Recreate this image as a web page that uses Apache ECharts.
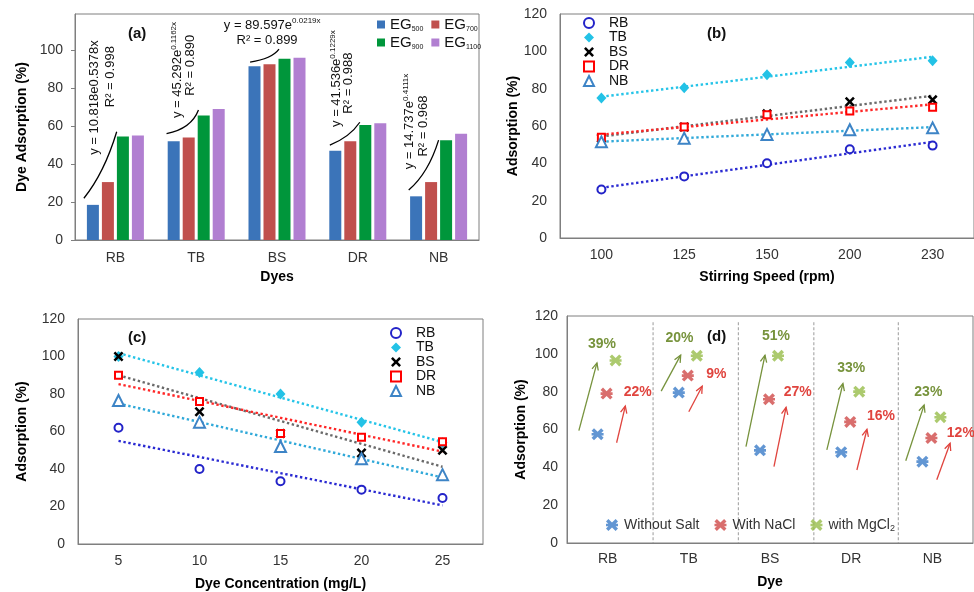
<!DOCTYPE html>
<html>
<head>
<meta charset="utf-8">
<script src="https://cdn.jsdelivr.net/npm/echarts@6/dist/echarts.min.js"></script>
<style>
  html, body { margin: 0; padding: 0; background: #fff; }
  #main { width: 974px; height: 592px; }
</style>
</head>
<body>
<div id="main"></div>
<script>
// (a) adsorption of each dye on the four carbons
var dyes = ['RB', 'TB', 'BS', 'DR', 'NB'];
var eg500 = [18.5, 52, 91.5, 47, 23];
var eg700 = [30.5, 54, 92.5, 52, 30.5];
var eg900 = [54.5, 65.5, 95.5, 60.5, 52.5];
var eg1100 = [55, 69, 96, 61.5, 56];
var eqBase = ['y = 10.818e0.5378x', 'y = 45.292e', 'y = 89.597e', 'y = 41.536e', 'y = 14.737e'];
var eqExp = ['', '0.1162x', '0.0219x', '0.1229x', '0.4111x'];
var r2 = ['0.998', '0.890', '0.899', '0.988', '0.968'];

// (b) stirring speed
var speeds = ['100', '125', '150', '200', '230'];
var rbSpeed = [26, 33, 40, 47.5, 49.5];
var tbSpeed = [75, 80.5, 87.5, 94, 95];
var bsSpeed = [53.5, 59.5, 66.5, 73, 74];
var drSpeed = [54, 59.5, 66, 68, 70];
var nbSpeed = [51.5, 53.5, 55.5, 58, 59];

// (c) dye concentration
var concs = ['5', '10', '15', '20', '25'];
var rbConc = [62, 40, 33.5, 29, 24.5];
var tbConc = [100, 91.5, 80, 65, 54];
var bsConc = [100, 70.5, 59, 48.5, 50];
var drConc = [90, 76, 59, 57, 54.5];
var nbConc = [76.5, 65, 52, 45.5, 37];

// (d) salt effect
var noSalt = [57.5, 79.5, 49, 48, 43];
var withNaCl = [79, 88.5, 76, 64, 55.5];
var withMgCl2 = [96.5, 99, 99, 80, 66.5];
var mgGain = ['39%', '20%', '51%', '33%', '23%'];
var naGain = ['22%', '9%', '27%', '16%', '12%'];

var FONT = '"Liberation Sans", Arial, sans-serif';
var AX = '#7f7f7f';
var LBL = '#333';

// linear trendline (least squares on category index, like excel)
function fit(ys) {
    var n = ys.length, mx = (n - 1) / 2, my = 0, sxy = 0, sxx = 0;
    ys.forEach(function (y) { my += y / n; });
    ys.forEach(function (y, i) { sxy += (i - mx) * (y - my); sxx += (i - mx) * (i - mx); });
    var b = sxy / sxx;
    return ys.map(function (y, i) { return +(my + b * (i - mx)).toFixed(2); });
}

var crossPath = 'path://M3.6,0L10,6.4L16.4,0L20,3.6L13.6,10L20,16.4L16.4,20L10,13.6L3.6,20L0,16.4L6.4,10L0,3.6Z';
var starPath = 'path://M4,0L10,6L16,0L20,4L14,10L20,16L16,20L10,14L4,20L0,16L6,10L0,4ZM0,7.8L20,7.8L20,12.2L0,12.2Z';

var markers = {
    RB: { symbol: 'emptyCircle', size: 8, color: '#2323c8', line: '#2a2ad2' },
    TB: { symbol: 'diamond', size: [10, 11], color: '#23c2e6', line: '#25c4e8' },
    BS: { symbol: crossPath, size: 10, color: '#000', line: '#6a6a6a' },
    DR: { symbol: 'emptyRect', size: 7, color: '#ff0000', line: '#ff2626' },
    NB: { symbol: 'emptyTriangle', size: 11, color: '#3d84c6', line: '#30a9d9' }
};

function catAxis(g, data, name, margin, gap) {
    return {
        type: 'category', gridIndex: g, data: data,
        axisLine: { lineStyle: { color: AX } },
        axisTick: { show: false },
        axisLabel: { color: LBL, fontSize: 14, margin: margin },
        name: name, nameLocation: 'middle', nameGap: gap,
        nameTextStyle: { color: '#000', fontSize: 14, fontWeight: 'bold' }
    };
}
function valAxis(g, max, name, gap, margin, ticks) {
    return {
        type: 'value', gridIndex: g, min: 0, max: max, interval: 20,
        axisLine: { show: true, lineStyle: { color: AX } },
        axisTick: { show: !!ticks, length: 4, lineStyle: { color: AX } },
        splitLine: { show: false },
        axisLabel: { color: LBL, fontSize: 14, margin: margin, showMaxLabel: max % 20 === 0 },
        name: name, nameLocation: 'middle', nameGap: gap,
        nameTextStyle: { color: '#000', fontSize: 14, fontWeight: 'bold' }
    };
}

function pts(name, data, g) {
    var m = markers[name];
    return {
        type: 'scatter', name: name, xAxisIndex: g, yAxisIndex: g, data: data,
        symbol: m.symbol, symbolSize: m.size, itemStyle: { color: m.color, opacity: 1 }, z: 4
    };
}
function trend(name, data, g) {
    return {
        type: 'line', xAxisIndex: g, yAxisIndex: g, data: fit(data), symbol: 'none', silent: true,
        lineStyle: { color: markers[name].line, width: 2.4, type: [2.4, 2.6] }, z: 3
    };
}

var egColors = { EG500: '#3b74b9', EG700: '#c0504d', EG900: '#00963b', EG1100: '#b17fd1' };
function bars(name, data) {
    return {
        type: 'bar', name: name, xAxisIndex: 0, yAxisIndex: 0, data: data,
        barWidth: 12, barGap: '25%', itemStyle: { color: egColors[name] }
    };
}
function salt(name, data, color, off) {
    return {
        type: 'scatter', name: name, xAxisIndex: 3, yAxisIndex: 3, data: data,
        symbol: starPath, symbolSize: 12, symbolOffset: [off, 0], itemStyle: { color: color }, z: 4
    };
}

var dyeLegendText = { fontSize: 14, color: '#111', lineHeight: 14, padding: [0, 0, 0, 10] };

var option = {
    animation: false,
    textStyle: { fontFamily: FONT },
    title: [
        { text: '(a)', left: 128, top: 26 },
        { text: '(b)', left: 707, top: 26 },
        { text: '(c)', left: 128, top: 330 },
        { text: '(d)', left: 707, top: 329 }
    ].map(function (t) {
        t.padding = 0;
        t.textStyle = { fontSize: 15, fontWeight: 'bold', color: '#111', fontFamily: FONT };
        return t;
    }),
    grid: [
        { left: 75, top: 14, width: 404, height: 226 },
        { left: 560, top: 14, width: 415, height: 224 },
        { left: 78, top: 319, width: 405, height: 225 },
        { left: 567, top: 316, width: 406, height: 227 }
    ].map(function (g) {
        g.show = true; g.borderColor = AX; g.borderWidth = 1; g.backgroundColor = 'transparent';
        return g;
    }),
    xAxis: [
        catAxis(0, dyes, 'Dyes', 11, 30),
        catAxis(1, speeds, 'Stirring Speed (rpm)', 10, 32),
        catAxis(2, concs, 'Dye Concentration (mg/L)', 10, 33),
        catAxis(3, dyes, 'Dye', 9, 32)
    ],
    yAxis: [
        valAxis(0, 119, 'Dye Adsorption (%)', 46, 12, true),
        valAxis(1, 120, 'Adsorption (%)', 35, 13),
        valAxis(2, 120, 'Adsorption (%)', 49, 13),
        valAxis(3, 120, 'Adsorption (%)', 39, 9)
    ],
    legend: [
        { data: ['EG500', 'EG700'], left: 377, top: 17 },
        { data: ['EG900', 'EG1100'], left: 377, top: 35 }
    ].map(function (l) {
        l.icon = 'rect'; l.itemWidth = 8; l.itemHeight = 8; l.itemGap = 8; l.padding = 0;
        l.formatter = function (n) { return '{b|EG}{s|' + n.slice(2) + '}'; };
        l.textStyle = {
            rich: {
                b: { fontSize: 15, color: '#111', lineHeight: 16, fontFamily: FONT },
                s: { fontSize: 7, color: '#111', lineHeight: 5, verticalAlign: 'bottom', fontFamily: FONT }
            }
        };
        return l;
    }).concat([
        { data: dyes, orient: 'vertical', left: 583, top: 16, itemWidth: 10, itemHeight: 10, itemGap: 0.5, padding: 0, textStyle: dyeLegendText },
        { data: dyes, orient: 'vertical', left: 390, top: 326, itemWidth: 10, itemHeight: 10, itemGap: 0.5, padding: 0, textStyle: dyeLegendText },
        {
            data: ['Without Salt', 'With NaCl', 'with MgCl2'], left: 606, top: 518, itemWidth: 14, itemHeight: 12,
            itemGap: 15, padding: 0,
            formatter: function (n) { return n === 'with MgCl2' ? '{t|with MgCl}{s|2}' : '{t|' + n + '}'; },
            textStyle: {
                rich: {
                    t: { fontSize: 14, color: '#333', lineHeight: 16, fontFamily: FONT },
                    s: { fontSize: 9, color: '#333', lineHeight: 5, verticalAlign: 'bottom', fontFamily: FONT }
                }
            }
        }
    ]),
    series: [
        bars('EG500', eg500), bars('EG700', eg700), bars('EG900', eg900), bars('EG1100', eg1100),
        trend('RB', rbSpeed, 1), trend('TB', tbSpeed, 1), trend('BS', bsSpeed, 1), trend('DR', drSpeed, 1), trend('NB', nbSpeed, 1),
        pts('RB', rbSpeed, 1), pts('TB', tbSpeed, 1), pts('BS', bsSpeed, 1), pts('DR', drSpeed, 1), pts('NB', nbSpeed, 1),
        trend('RB', rbConc, 2), trend('TB', tbConc, 2), trend('BS', bsConc, 2), trend('DR', drConc, 2), trend('NB', nbConc, 2),
        pts('RB', rbConc, 2), pts('TB', tbConc, 2), pts('BS', bsConc, 2), pts('DR', drConc, 2), pts('NB', nbConc, 2),
        salt('Without Salt', noSalt, '#3b7cc8', -10),
        salt('With NaCl', withNaCl, '#d04a48', -1),
        salt('with MgCl2', withMgCl2, '#97bd4a', 8)
    ]
};

var chart = echarts.init(document.getElementById('main'));
chart.setOption(option);

// annotation placement: [offset in category bands, y value]
var annA = [
    { c0: [-0.39, 22], c1: [0.016, 57], k: 0.62, eq: [-0.255, 75], r2: [-0.058, 86], flat: false },
    { c0: [-0.367, 56], c1: [0.028, 68.5], k: 0.78, eq: [-0.23, 89.5], r2: [-0.07, 92], flat: false },
    { c0: [-0.333, 93.7], c1: [0.025, 100.5], k: 0.75, eq: [-0.06, 113.2], r2: [-0.123, 105.3], flat: true },
    { c0: [-0.346, 50], c1: [0.025, 62], k: 0.66, eq: [-0.26, 85], r2: [-0.11, 82.6], flat: false },
    { c0: [-0.37, 26.3], c1: [0, 52.6], k: 0.66, eq: [-0.358, 62.4], r2: [-0.185, 60], flat: false }
];
var annD = [
    { g: [[-0.354, 59.4], [-0.131, 95.2]], r: [[0.111, 53], [0.218, 72.4]], gl: [-0.069, 104.9], rl: [0.37, 79.9] },
    { g: [[-0.34, 80.3], [-0.10, 99.3]], r: [[0, 69.4], [0.165, 82.9]], gl: [-0.115, 108.1], rl: [0.338, 89.2] },
    { g: [[-0.296, 50.9], [-0.062, 99.3]], r: [[0.049, 40.4], [0.198, 71.7]], gl: [0.074, 109.4], rl: [0.342, 79.9] },
    { g: [[-0.3, 49.2], [-0.102, 84.3]], r: [[0.07, 38.6], [0.194, 60.1]], gl: [0, 92.2], rl: [0.367, 67.3] },
    { g: [[-0.328, 43.5], [-0.102, 72.9]], r: [[0.054, 33.4], [0.218, 52.7]], gl: [-0.05, 79.9], rl: [0.35, 58] }
];
var dividers = [0.56, 1.61, 2.54, 3.58];

function at(g, c, p) {
    var a = chart.convertToPixel({ xAxisIndex: g, yAxisIndex: g }, [c, p[1]]);
    var b = chart.convertToPixel({ xAxisIndex: g, yAxisIndex: g }, [c === 0 ? 1 : c - 1, p[1]]);
    return [a[0] + p[0] * Math.abs(b[0] - a[0]), a[1]];
}

function arrow(p0, p1, color) {
    var dx = p1[0] - p0[0], dy = p1[1] - p0[1], L = Math.sqrt(dx * dx + dy * dy);
    var ux = dx / L, uy = dy / L, h = 7, w = 3.2;
    var bx = p1[0] - ux * h, by = p1[1] - uy * h;
    return [
        { type: 'line', shape: { x1: p0[0], y1: p0[1], x2: p1[0], y2: p1[1] }, style: { stroke: color, lineWidth: 1.3 } },
        { type: 'polyline', shape: { points: [[bx - uy * w, by + ux * w], p1, [bx + uy * w, by - ux * w]] }, style: { stroke: color, lineWidth: 1.3, fill: null } }
    ];
}

function txt(p, text, extra) {
    var el = {
        type: 'text', x: p[0], y: p[1], z: 10,
        style: Object.assign({
            text: text, fill: '#111', font: '13px ' + FONT,
            align: 'center', verticalAlign: 'middle', textAlign: 'center', textVerticalAlign: 'middle'
        }, extra || {})
    };
    return el;
}

var els = [];
var eqRich = {
    n: { fontSize: 13, fontFamily: FONT, color: '#111', lineHeight: 16 },
    s: { fontSize: 8, fontFamily: FONT, color: '#111', lineHeight: 8, verticalAlign: 'top' }
};
dyes.forEach(function (d, i) {
    var a = annA[i];
    var p0 = at(0, i, a.c0), p1 = at(0, i, a.c1);
    var cp = [p0[0] + a.k * (p1[0] - p0[0]), p0[1] + (1 - a.k) * (p1[1] - p0[1])];
    els.push({
        type: 'bezierCurve', z: 10,
        shape: { x1: p0[0], y1: p0[1], x2: p1[0], y2: p1[1], cpx1: cp[0], cpy1: cp[1] },
        style: { stroke: '#000', lineWidth: 1.3, fill: null }
    });
    var eqText = '{n|' + eqBase[i] + '}' + (eqExp[i] ? '{s|' + eqExp[i] + '}' : '');
    var e = txt(at(0, i, a.eq), eqText, { rich: eqRich });
    var r = txt(at(0, i, a.r2), 'R\u00b2 = ' + r2[i]);
    if (!a.flat) { e.rotation = Math.PI / 2; r.rotation = Math.PI / 2; }
    els.push(e, r);

    var s = annD[i];
    els = els.concat(arrow(at(3, i, s.g[0]), at(3, i, s.g[1]), '#76923c'));
    els = els.concat(arrow(at(3, i, s.r[0]), at(3, i, s.r[1]), '#e0443e'));
    els.push(txt(at(3, i, s.gl), mgGain[i], { fill: '#77933c', font: 'bold 14px ' + FONT }));
    els.push(txt(at(3, i, s.rl), naGain[i], { fill: '#e0443e', font: 'bold 14px ' + FONT }));
});
dividers.forEach(function (x) {
    var c = Math.floor(x), top = at(3, c, [x - c, 116.7]), bot = at(3, c, [x - c, 0]);
    els.push({
        type: 'line', z: 1, shape: { x1: top[0], y1: top[1], x2: bot[0], y2: bot[1] },
        style: { stroke: '#9a9a9a', lineWidth: 1, lineDash: [3, 2] }
    });
});

chart.setOption({ graphic: els });
</script>
</body>
</html>
